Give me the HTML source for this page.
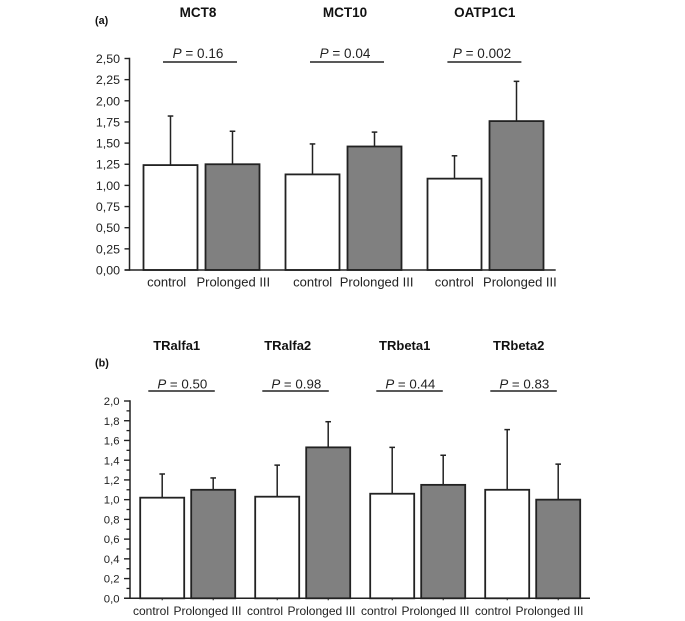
<!DOCTYPE html>
<html lang="en">
<head>
<meta charset="utf-8">
<title>Transporter and receptor expression charts</title>
<style>
html,body{margin:0;padding:0;background:#fff;}
svg{display:block;font-family:"Liberation Sans",Arial,sans-serif;}
</style>
</head>
<body>
<svg id="figure" xmlns="http://www.w3.org/2000/svg" width="685" height="621" viewBox="0 0 685 621">
  <rect width="685" height="621" fill="#fff"/>
</svg>
<script>
const genesA = ['MCT8', 'MCT10', 'OATP1C1'];
const pValuesA = ['0.16', '0.04', '0.002'];
const controlMeansA = [1.24, 1.13, 1.08];
const controlErrorsA = [0.58, 0.36, 0.27];
const illMeansA = [1.25, 1.46, 1.76];
const illErrorsA = [0.39, 0.17, 0.47];
const tickValuesA = [0, 0.25, 0.5, 0.75, 1, 1.25, 1.5, 1.75, 2, 2.25, 2.5];
const tickLabelsA = ['0,00', '0,25', '0,50', '0,75', '1,00', '1,25', '1,50', '1,75', '2,00', '2,25', '2,50'];

const genesB = ['TRalfa1', 'TRalfa2', 'TRbeta1', 'TRbeta2'];
const pValuesB = ['0.50', '0.98', '0.44', '0.83'];
const controlMeansB = [1.02, 1.03, 1.06, 1.10];
const controlErrorsB = [0.24, 0.32, 0.47, 0.61];
const illMeansB = [1.10, 1.53, 1.15, 1.00];
const illErrorsB = [0.12, 0.26, 0.30, 0.36];
const tickValuesB = [0, 0.2, 0.4, 0.6, 0.8, 1, 1.2, 1.4, 1.6, 1.8, 2];
const tickLabelsB = ['0,0', '0,2', '0,4', '0,6', '0,8', '1,0', '1,2', '1,4', '1,6', '1,8', '2,0'];
const minorTickValuesB = [0.1, 0.3, 0.5, 0.7, 0.9, 1.1, 1.3, 1.5, 1.7, 1.9];

const groupNames = ['control', 'Prolonged III'];

const svg = document.getElementById('figure');
const NS = 'http://www.w3.org/2000/svg';
const INK = '#222';

function make(tag, parent, props) {
  const node = document.createElementNS(NS, tag);
  for (const key in props) node.setAttribute(key, props[key]);
  parent.appendChild(node);
  return node;
}

function drawPanel(p) {
  const panel = make('g', svg, {});
  
  

  const yScale = v => p.bottom - (v / p.maxValue) * (p.bottom - p.top);
  const groupX = i => p.left + p.pad + i * p.step;

  const panelLabel = make('text', panel, {x: 95, y: p.panelLabelY, 'font-size': 10.8, 'font-weight': 'bold', fill: '#111'});
  
  
  panelLabel.textContent = p.panelLabel;

  p.genes.forEach((gene, i) => {
    const cx = p.titleCenter(i);
    const title = make('text', panel, {x: cx, y: p.titleY, 'font-size': p.titleSize, 'font-weight': 'bold', 'text-anchor': 'middle', fill: '#111'});
    
    
    title.textContent = gene;

    const pLabel = make('text', panel, {x: p.pCenter(i), y: p.pY, 'font-size': p.pSize, 'text-anchor': 'middle', fill: INK});
    
    
    const pItalic = make('tspan', pLabel, {'font-style': 'italic'});
    pItalic.textContent = 'P';
    pLabel.appendChild(document.createTextNode(' = ' + p.pValues[i]));

    const pLine = make('line', panel, {x1: p.lineStart(i), x2: p.lineStart(i) + p.lineWidth, y1: p.lineY, y2: p.lineY, stroke: INK, 'stroke-width': 1.4});
    
    

    [0, 1].forEach(k => {
      const mean = k === 0 ? p.controlMeans[i] : p.illMeans[i];
      const err = k === 0 ? p.controlErrors[i] : p.illErrors[i];
      const x = groupX(i) + k * p.barOffset;
      const center = x + p.barWidth / 2;
      const suffix = gene + '-' + (k === 0 ? 'control' : 'prolonged');

      const errLine = make('line', panel, {x1: center, x2: center, y1: yScale(mean), y2: yScale(mean + err), stroke: INK, 'stroke-width': 1.5});
      
      

      const errCap = make('line', panel, {x1: center - 2.8, x2: center + 2.8, y1: yScale(mean + err), y2: yScale(mean + err), stroke: INK, 'stroke-width': 1.5});
      
      

      const bar = make('rect', panel, {x: x + 0.5, y: yScale(mean), width: p.barWidth - 1, height: p.bottom - yScale(mean), fill: k === 0 ? '#fff' : '#808080', stroke: INK, 'stroke-width': 1.8});
      
      

      if (p.bottomTicks) {
        const xTick = make('line', panel, {x1: center, x2: center, y1: p.bottom, y2: p.bottom + 2, stroke: INK, 'stroke-width': 1});
        
        
      }

      const catLabel = make('text', panel, {x: p.catCenter(i, k), y: p.catY, 'font-size': p.catSize, 'text-anchor': 'middle', fill: INK});
      
      
      catLabel.textContent = groupNames[k];
    });
  });

  const yAxis = make('line', panel, {x1: p.left, x2: p.left, y1: p.top - 0.7, y2: p.bottom + 0.7, stroke: INK, 'stroke-width': 1.5});
  
  

  const xAxis = make('line', panel, {x1: p.left - p.tickLength, x2: p.right, y1: p.bottom, y2: p.bottom, stroke: INK, 'stroke-width': 1.5});
  
  

  p.tickValues.forEach((v, i) => {
    const tick = make('line', panel, {x1: p.left - p.tickLength, x2: p.left, y1: yScale(v), y2: yScale(v), stroke: INK, 'stroke-width': 1.4});
    
    

    const label = make('text', panel, {x: p.left - p.tickLength - 4.5, y: yScale(v) + p.tickSize * 0.36, 'font-size': p.tickSize, 'text-anchor': 'end', fill: INK});
    
    
    label.textContent = p.tickLabels[i];
  });

  p.minorTicks.forEach(v => {
    const minor = make('line', panel, {x1: p.left - 3.5, x2: p.left, y1: yScale(v), y2: yScale(v), stroke: INK, 'stroke-width': 1.3});
    
    
  });
}

drawPanel({
  id: 'transporters', panelLabel: '(a)', panelLabelY: 24,
  genes: genesA, pValues: pValuesA,
  controlMeans: controlMeansA, controlErrors: controlErrorsA,
  illMeans: illMeansA, illErrors: illErrorsA,
  tickValues: tickValuesA, tickLabels: tickLabelsA, minorTicks: [],
  maxValue: 2.5, left: 129.5, right: 555.7, top: 58.5, bottom: 270,
  pad: 13.5, step: 142, barWidth: 55, barOffset: 62, bottomTicks: false,
  tickLength: 5, tickSize: 12.4,
  titleSize: 13.5, titleY: 17, titleCenter: i => 198 + i * 143.4 + (i === 1 ? 3.6 : 0),
  pSize: 13.5, pY: 58, pCenter: i => 198 + i * 142 + (i === 1 ? 5 : 0),
  lineY: 62, lineWidth: 74, lineStart: i => 163 + i * 142.2 + (i === 1 ? 4.8 : 0),
  catSize: 13, catY: 286.5,
  catCenter: (i, k) => (k === 0 ? 166.7 + i * 143.8 + (i === 1 ? 2.2 : 0) : 233.3 + i * 143.3)
});

drawPanel({
  id: 'receptors', panelLabel: '(b)', panelLabelY: 366.5,
  genes: genesB, pValues: pValuesB,
  controlMeans: controlMeansB, controlErrors: controlErrorsB,
  illMeans: illMeansB, illErrors: illErrorsB,
  tickValues: tickValuesB, tickLabels: tickLabelsB, minorTicks: minorTickValuesB,
  maxValue: 2, left: 130, right: 590, top: 401, bottom: 598.3,
  pad: 9.7, step: 115, barWidth: 45, barOffset: 51, bottomTicks: true,
  tickLength: 6, tickSize: 11.3,
  titleSize: 13, titleY: 350, titleCenter: i => 176.7 + i * 114 + (i === 1 ? -3 : 0),
  pSize: 13.3, pY: 388.5, pCenter: i => 182.3 + i * 114,
  lineY: 391, lineWidth: 66.5, lineStart: i => 148.3 + i * 114,
  catSize: 12, catY: 615,
  catCenter: (i, k) => (k === 0 ? 151 + i * 114 : 207.5 + i * 114)
});
</script>
</body>
</html>
